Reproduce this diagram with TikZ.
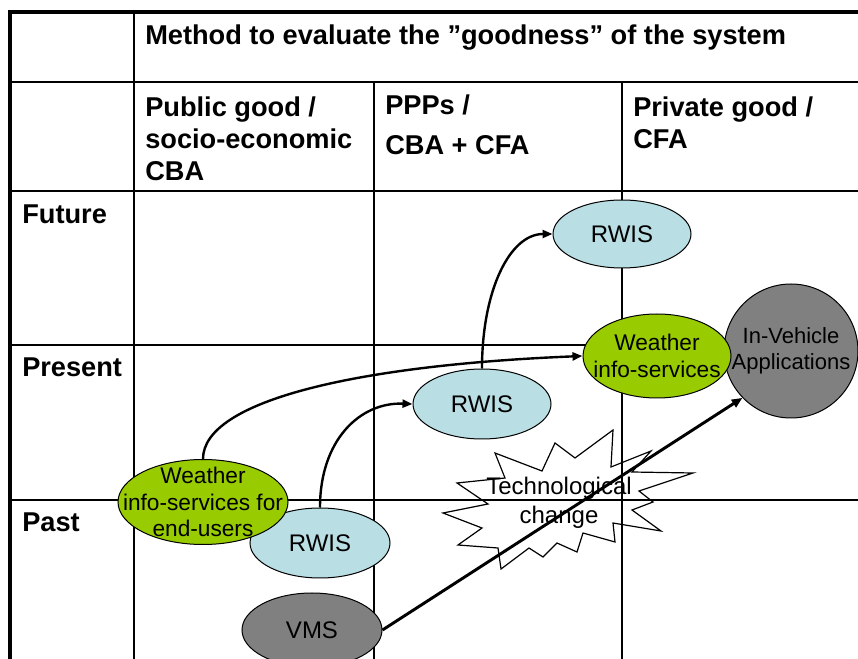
\documentclass[tikz,border=0pt]{standalone}
\usepackage{fontspec}
\setmainfont{Liberation Sans}
\usetikzlibrary{shapes.geometric,arrows.meta}
\definecolor{rwisblue}{RGB}{185,222,228}
\definecolor{wgreen}{RGB}{153,204,0}
\definecolor{vgrey}{RGB}{128,128,128}
\begin{document}
\begin{tikzpicture}[x=0.75pt,y=-0.75pt,
  gridline/.style={line width=1.5pt},
  outerline/.style={line width=2.4pt},
  hdr/.style={font=\bfseries\fontsize{20.4}{24}\selectfont, anchor=north west, inner sep=0pt, align=left},
  blob/.style={ellipse, draw=black, line width=0.75pt, inner sep=0pt},
  lbl/.style={font=\fontsize{17}{20}\selectfont, align=center, inner sep=0pt},
  biglbl/.style={lbl, font=\fontsize{18}{21}\selectfont},
  conn/.style={line width=1.8pt, -{Triangle[length=7.5pt,width=6pt]}},
]
\useasboundingbox (0,0) rectangle (858,659);
\fill[white] (0,0) rectangle (858,659);
% table grid
\draw[gridline] (10,82) -- (858,82);
\draw[gridline] (10,191) -- (858,191);
\draw[gridline] (10,345) -- (858,345);
\draw[gridline] (10,500) -- (858,500);
\draw[gridline] (134,12) -- (134,659);
\draw[gridline] (374,82) -- (374,659);
\draw[gridline] (622,82) -- (622,659);
\draw[outerline] (10,659) -- (10,12) -- (858,12);
% header texts
\node[hdr] (title) at (145,25) {Method to evaluate the ”goodness” of the system};
\node[hdr] (c1) at (145,97) {Public good /\\socio-economic\\CBA};
\node[hdr] (c2) at (385,95) {PPPs /\\[6pt]CBA + CFA};
\node[hdr] (c3) at (633,97) {Private good /\\CFA};
\node[hdr] (future) at (22,205) {Future};
\node[hdr] (present) at (22,358) {Present};
\node[hdr] (past) at (22,513) {Past};
% starburst
\draw[line width=0.9pt] (613,430) -- (611,467) -- (651,451) -- (632,472) -- (693,473)
  -- (639,491) -- (653,502) -- (632,510) -- (661,531) -- (613,523) -- (615,542)
  -- (583,533) -- (577,552) -- (557,543) -- (543,557) -- (529,548) -- (501,569)
  -- (498,548) -- (458,545) -- (482,528) -- (443,513) -- (488,504) -- (457,483)
  -- (505,478) -- (495,453) -- (542,471) -- (555,443) -- (575,458) -- cycle;
\node[lbl, font=\fontsize{18}{21.5}\selectfont] (tech) at (559,503) {Technological\\change};
% ellipses
\node[blob, fill=rwisblue, minimum width=103.5pt, minimum height=51pt, label={[biglbl]center:RWIS}] (rF) at (622,234) {};
\node[blob, fill=vgrey, minimum width=100.5pt, minimum height=100.5pt, label={[lbl, font=\fontsize{16.5}{19.5}\selectfont]center:{In-Vehicle\\Applications}}] (iv) at (791,351) {};
\node[blob, fill=wgreen, minimum width=111pt, minimum height=63pt, label={[lbl]center:{Weather\\info-services}}] (wI) at (657,356) {};
\node[blob, fill=rwisblue, minimum width=103.5pt, minimum height=52.5pt, label={[biglbl]center:RWIS}] (rN) at (482,404) {};
\node[blob, fill=rwisblue, minimum width=105pt, minimum height=52.5pt, label={[biglbl]center:RWIS}] (rP) at (320,543) {};
\node[blob, fill=wgreen, minimum width=127.5pt, minimum height=63.75pt, label={[lbl]center:{Weather\\info-services for\\end-users}}] (wE) at (203,502) {};
\node[blob, fill=vgrey, minimum width=105pt, minimum height=55.5pt, label={[biglbl]center:VMS}] (vms) at (312,630) {};
% connectors
\draw[conn] (wE.north) .. controls (203,400) and (360,365) .. (wI.west);
\draw[conn] (rP.north) .. controls (320,440) and (360,402) .. (rN.west);
\draw[conn] (rN.north) .. controls (482,290) and (510,234) .. (rF.west);
\draw[line width=2.2pt, -{Triangle[length=8pt,width=6.5pt]}] (vms.east) -- (iv.224);
\end{tikzpicture}
\end{document}
